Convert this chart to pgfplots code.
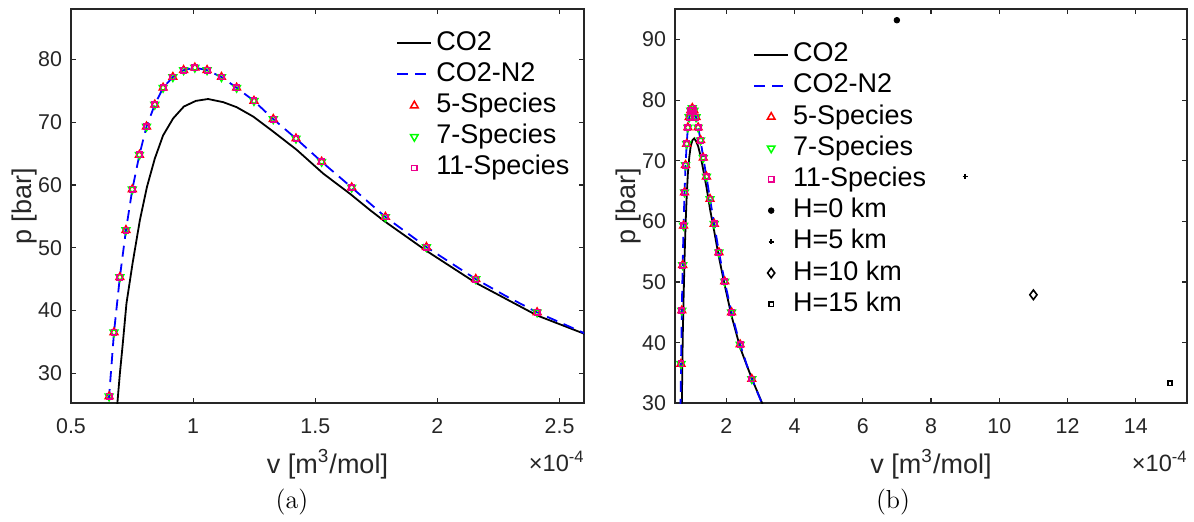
\documentclass[border=0pt]{standalone}
\usepackage{fontspec}
\usepackage{pgfplots}
\usepackage{pgfplotstable}
\pgfplotsset{compat=1.18}
\newfontfamily\hv{Liberation Sans}
\definecolor{axgray}{rgb}{0.15,0.15,0.15}

% CO2 (pure) curve
\pgfplotstableread{
v p
0.684 20
0.690 25.3
0.700 29.9
0.711 34.3
0.727 41.1
0.752 47.5
0.782 54.4
0.811 59.7
0.843 64.2
0.877 67.9
0.918 70.6
0.962 72.5
1.011 73.4
1.061 73.7
1.123 73.2
1.178 72.4
1.246 70.9
1.328 68.5
1.424 65.6
1.533 61.8
1.642 58.6
1.724 56.0
1.784 54.2
1.955 49.5
2.157 44.4
2.408 39.2
2.600 36.3
2.800 33.4
3.100 29.4
}\coco

% CO2-N2 curve
\pgfplotstableread{
v p
0.645 20
0.656 26.3
0.676 36.5
0.700 45.3
0.725 52.8
0.751 59.3
0.780 64.8
0.809 69.3
0.843 72.8
0.877 75.5
0.917 77.2
0.961 78.3
1.007 78.7
1.057 78.3
1.116 77.2
1.178 75.5
1.249 73.4
1.328 70.5
1.421 67.4
1.526 63.7
1.649 59.6
1.787 54.9
1.955 50.1
2.157 45.0
2.280 42.3
2.408 39.7
2.600 36.4
2.750 34.0
3.100 29.3
}\conn

% species model points
\pgfplotstableread{
v p
0.656 26.3
0.676 36.5
0.700 45.3
0.725 52.8
0.751 59.3
0.780 64.8
0.809 69.3
0.843 72.8
0.877 75.5
0.917 77.2
0.961 78.3
1.007 78.7
1.057 78.3
1.116 77.2
1.178 75.5
1.249 73.4
1.328 70.5
1.421 67.4
1.526 63.7
1.649 59.6
1.787 54.9
1.955 50.1
2.157 45.0
2.408 39.7
2.750 34.0
}\spec

\begin{document}
\begin{tikzpicture}
\useasboundingbox (-35.5pt,-59.35pt) rectangle (561.5pt,201.65pt);
\pgfplotsset{
  myaxis/.style={
    scale only axis, height=197pt,
    axis line style={axgray, line width=0.8pt},
    every tick/.style={axgray, line width=0.6pt},
    major tick length=2.5pt,
    tick align=inside,
    ticklabel style={font=\fontsize{10.7}{12}\hv, text=axgray},
    /pgf/number format/assume math mode=true,
    label style={font=\fontsize{13.5}{16}\hv, text=axgray},
    xlabel style={at={(axis description cs:0.5,-0.155)}, anchor=center},
    ylabel style={at={(axis description cs:-0.09,0.5)}, anchor=center},
    xticklabel style={yshift=-4pt},
    yticklabel style={xshift=-1pt},
    legend style={draw=none, fill=none, anchor=north west,
      font=\fontsize{13.5}{16}\hv, inner sep=0pt, row sep=2.6pt,
      nodes={inner sep=0pt, text height=10pt, text depth=3pt},
      /tikz/every odd column/.append style={column sep=2pt}},
    legend cell align=left,
  },
  co2/.style={black, line width=0.9pt, no marks},
  co2n2/.style={blue, line width=0.9pt, dash pattern=on 5.5pt off 3.5pt, no marks},
  sp5/.style={only marks, red, mark=triangle, mark size=2.2pt, mark options={line width=0.75pt, solid}},
  sp7/.style={only marks, green, mark=triangle, mark size=2.2pt, mark options={rotate=180, line width=0.75pt, solid}},
  sp11/.style={only marks, magenta, mark=square, mark size=1.35pt, mark options={line width=0.75pt, solid}},
}
\begin{axis}[myaxis, name=left, width=256.5pt, at={(0pt,0pt)},
  xmin=0.5, xmax=2.6, ymin=25.2, ymax=88,
  xtick={0.5,1,1.5,2,2.5}, xticklabels={0.5,1,1.5,2,2.5},
  ytick={30,40,50,60,70,80},
  xlabel={v [m\textsuperscript{3}/mol]}, ylabel={p [bar]},
  legend style={at={(rel axis cs:0.6335,0.948)}},
]
\addplot[co2] table {\coco};
\addplot[co2n2] table {\conn};
\addplot[sp5, restrict x to domain=0.5:2.6] table {\spec};
\addplot[sp7, restrict x to domain=0.5:2.6] table {\spec};
\addplot[sp11, restrict x to domain=0.5:2.6] table {\spec};
\legend{CO2,CO2-N2,5-Species,7-Species,11-Species}
\end{axis}

\begin{axis}[myaxis, name=right, width=256pt, at={(302pt,0pt)},
  xmin=0.5, xmax=15.5, ymin=30, ymax=95,
  xtick={2,4,6,8,10,12,14},
  ytick={30,40,50,60,70,80,90},
  xlabel={v [m\textsuperscript{3}/mol]}, ylabel={p [bar]},
  legend style={at={(rel axis cs:0.152,0.919)}},
]
\addplot[co2] table {\coco};
\addplot[co2n2] table {\conn};
\addplot[sp5, restrict y to domain=30:95] table {\spec};
\addplot[sp7, restrict y to domain=30:95] table {\spec};
\addplot[sp11, restrict y to domain=30:95] table {\spec};
\addplot[only marks, black, mark=*, mark size=1.4pt] coordinates {(7,93.2)};
\addplot[only marks, black, mark=+, mark size=1.3pt, mark options={line width=0.8pt}] coordinates {(9,67.4)};
\addplot[only marks, black, mark=diamond, mark size=2.4pt, mark options={line width=0.8pt}] coordinates {(11,47.9)};
\addplot[only marks, black, mark=square, mark size=1.1pt, mark options={line width=0.8pt}] coordinates {(15,33.3)};
\legend{CO2,CO2-N2,5-Species,7-Species,11-Species,H=0 km,H=5 km,H=10 km,H=15 km}
\end{axis}

\node[anchor=base east, inner sep=0pt, font=\fontsize{11.8}{13}\hv, text=axgray] at (257pt,-34pt) {×10\textsuperscript{-4}};
\node[anchor=base east, inner sep=0pt, font=\fontsize{11.8}{13}\hv, text=axgray] at (558.5pt,-34pt) {×10\textsuperscript{-4}};
\node[font=\fontsize{13}{15}\selectfont] at (110.5pt,-49.5pt) {(a)};
\node[font=\fontsize{13}{15}\selectfont] at (411pt,-49.5pt) {(b)};
\end{tikzpicture}
\end{document}
